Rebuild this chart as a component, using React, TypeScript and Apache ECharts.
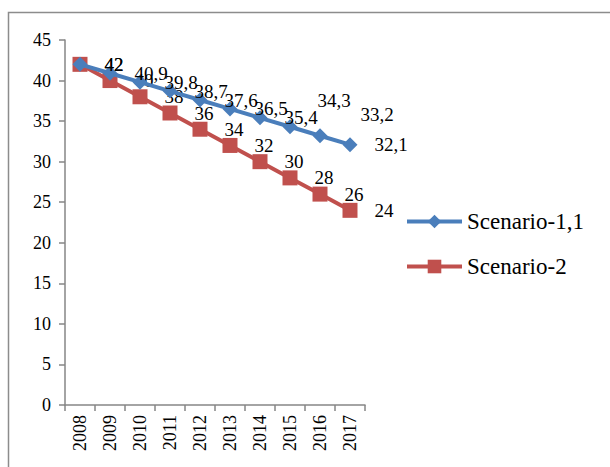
import React, { useEffect, useRef } from "react";
import * as echarts from "echarts";

const years = ["2008", "2009", "2010", "2011", "2012", "2013", "2014", "2015", "2016", "2017"];
const scenario1 = [42, 40.9, 39.8, 38.7, 37.6, 36.5, 35.4, 34.3, 33.2, 32.1];
const scenario2 = [42, 40, 38, 36, 34, 32, 30, 28, 26, 24];
const seriesNames = ["Scenario-1,1", "Scenario-2"];
const yTicks = { min: 0, max: 45, interval: 5 };

const FONT = "'Liberation Serif', 'Times New Roman', serif";
const fmt = (v: number) => String(v).replace(".", ",");

export default function App() {
  const ref = useRef<HTMLDivElement>(null);
  useEffect(() => {
    if (!ref.current) return;
    const chart = echarts.init(ref.current, undefined, { renderer: "svg" });
    const blueOffsets: Record<number, [number, number]> = { 7: [3, -26], 8: [16, -21] };
    chart.setOption({
      animation: false,
      backgroundColor: "#ffffff",
      graphic: [
        {
          type: "rect",
          shape: { x: 8.5, y: 12.5, width: 800, height: 600 },
          style: { fill: "none", stroke: "#8c8c8c", lineWidth: 1.5 },
          z: -1,
        },
      ],
      grid: { left: 65, right: 245, top: 40, bottom: 62, containLabel: false },
      legend: {
        orient: "vertical",
        left: 405,
        top: 210,
        padding: 0,
        itemWidth: 55,
        itemHeight: 17,
        itemGap: 22,
        lineStyle: { width: 4 },
        textStyle: { fontFamily: FONT, fontSize: 23, color: "#000" },
        data: seriesNames,
      },
      xAxis: {
        type: "category",
        data: years,
        boundaryGap: true,
        axisLine: { lineStyle: { color: "#868686", width: 1.5 } },
        axisTick: { show: true, interval: 0, length: 6, lineStyle: { color: "#868686", width: 1.5 } },
        axisLabel: { rotate: 90, interval: 0, fontFamily: FONT, fontSize: 18, color: "#000", margin: 10 },
        splitLine: { show: false },
      },
      yAxis: {
        type: "value",
        min: yTicks.min,
        max: yTicks.max,
        interval: yTicks.interval,
        axisLine: { show: true, lineStyle: { color: "#868686", width: 1.5 } },
        axisTick: { show: true, length: 6, lineStyle: { color: "#868686", width: 1.5 } },
        axisLabel: { fontFamily: FONT, fontSize: 18, color: "#000", margin: 14 },
        splitLine: { show: false },
      },
      series: [
        {
          name: seriesNames[0],
          type: "line",
          data: scenario1.map((v, i) =>
            blueOffsets[i] ? { value: v, label: { offset: blueOffsets[i] } } : v
          ),
          symbol: "diamond",
          symbolSize: 15,
          showAllSymbol: true,
          itemStyle: { color: "#4A7EBB" },
          lineStyle: { color: "#4A7EBB", width: 4 },
          label: {
            show: true,
            position: "right",
            distance: 17,
            fontFamily: FONT,
            fontSize: 19,
            color: "#000",
            formatter: (p: any) => fmt(p.value),
          },
          z: 3,
        },
        {
          name: seriesNames[1],
          type: "line",
          data: scenario2,
          symbol: "rect",
          symbolSize: 15,
          showAllSymbol: true,
          itemStyle: { color: "#C0504D" },
          lineStyle: { color: "#C0504D", width: 4 },
          label: {
            show: true,
            position: "right",
            distance: 17,
            fontFamily: FONT,
            fontSize: 19,
            color: "#000",
            formatter: (p: any) => fmt(p.value),
          },
          z: 2,
        },
      ],
    });
    return () => chart.dispose();
  }, []);
  return (
    <div
      ref={ref}
      style={{ position: "absolute", left: 0, top: 0, width: 610, height: 467 }}
    />
  );
}
